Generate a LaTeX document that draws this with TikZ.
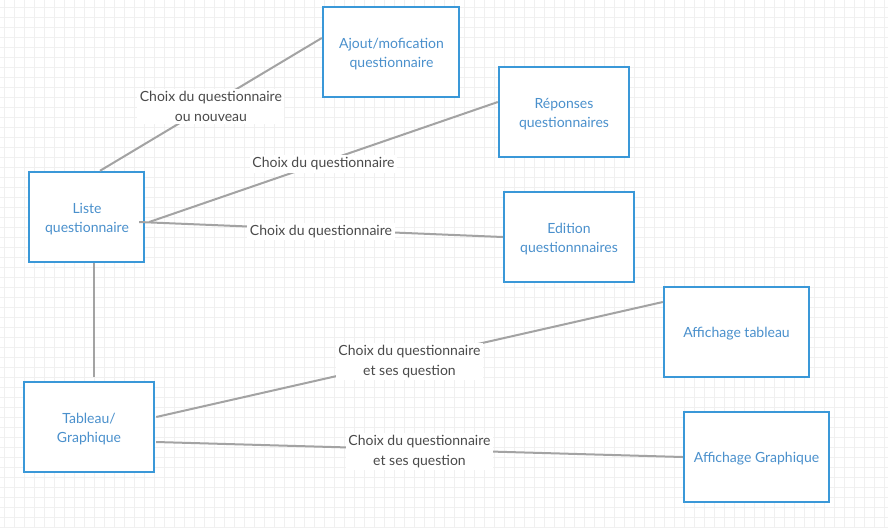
\documentclass[tikz,border=0pt]{standalone}
\usepackage{fontspec}
\setmainfont{Lato}
\usetikzlibrary{calc}
\definecolor{boxblue}{HTML}{3A98D8}
\definecolor{txtblue}{HTML}{4A90CC}
\definecolor{lblgray}{HTML}{4A4A4A}
\definecolor{linegray}{HTML}{A3A3A3}
\definecolor{gridgray}{HTML}{F0F0F0}
\tikzset{
  boxnode/.style={draw=boxblue, line width=2.4pt, fill=white, inner sep=0pt},
  boxtext/.style={text=txtblue, align=center, inner sep=0pt,
    font=\fontsize{14}{19.5}\selectfont},
  conn/.style={draw=linegray, line width=2pt},
  lbl/.style={fill=white, text=lblgray, align=center, inner sep=2.5pt, yshift=-2pt,
    font=\fontsize{14}{19.5}\selectfont}
}
\begin{document}
\begin{tikzpicture}[x=1pt,y=-1pt]
\useasboundingbox (0,0) rectangle (888,528);
\fill[white] (0,0) rectangle (888,528);
\foreach \gx in {4,14,...,884} \draw[gridgray, line width=0.8pt] (\gx,0) -- (\gx,528);
\foreach \gy in {7,17,...,527} \draw[gridgray, line width=0.8pt] (0,\gy) -- (888,\gy);

\node[boxnode, minimum width=136pt, minimum height=90pt] (ajout) at (391,52) {};
\node[boxnode, minimum width=130pt, minimum height=90pt] (rep) at (564,112) {};
\node[boxnode, minimum width=130pt, minimum height=90pt] (edit) at (569,237) {};
\node[boxnode, minimum width=115pt, minimum height=90pt] (liste) at (86.5,217) {};
\node[boxnode, minimum width=130pt, minimum height=90pt] (tab) at (89,427) {};
\node[boxnode, minimum width=145pt, minimum height=90pt] (afft) at (736.5,332) {};
\node[boxnode, minimum width=145pt, minimum height=90pt] (affg) at (756.5,457) {};

\node[boxtext] (ajoutt) at ($(ajout)+(0.5,2)$) {Ajout/mofication\\questionnaire};
\node[boxtext] (rept) at ($(rep)+(0,2)$) {Réponses\\questionnaires};
\node[boxtext] (editt) at ($(edit)+(0,2)$) {Edition\\questionnnaires};
\node[boxtext] (listet) at ($(liste)+(0.5,2)$) {Liste\\questionnaire};
\node[boxtext] (tabt) at ($(tab)+(0,2)$) {Tableau/\\Graphique};
\node[boxtext] (afftt) at ($(afft)+(0,2)$) {Affichage tableau};
\node[boxtext] (affgt) at ($(affg)+(0,2)$) {Affichage Graphique};

\draw[conn] ($(liste.north)+(13.5,0)$) -- node[lbl, midway] {Choix du questionnaire\\ou nouveau} ($(ajout.west)+(0,-14)$);
\draw[conn] ($(liste.east)+(4,5)$) -- node[lbl, midway] {Choix du questionnaire} ($(rep.west)+(0,-10)$);
\draw[conn] ($(liste.east)+(-6,5)$) -- node[lbl, midway] {Choix du questionnaire} (edit.west);
\draw[conn] ($(liste.south)+(7.5,0)$) -- ($(tab.north)+(5,-4)$);
\draw[conn] ($(tab.east)+(1,-10)$) -- node[lbl, midway] {Choix du questionnaire\\et ses question} ($(afft.west)+(0,-30)$);
\draw[conn] ($(tab.east)+(1,15)$) -- node[lbl, midway] {Choix du questionnaire\\et ses question} (affg.west);
\end{tikzpicture}
\end{document}
